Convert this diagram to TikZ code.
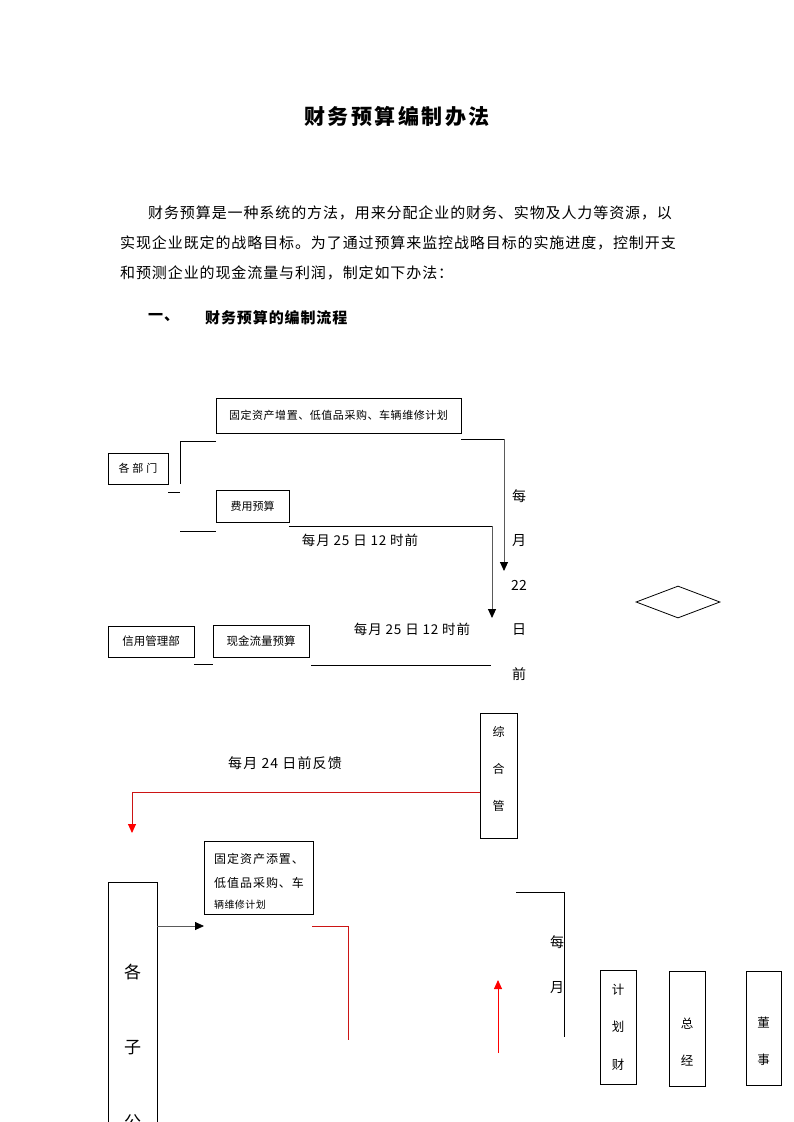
\documentclass[tikz,border=0pt]{standalone}
\usepackage{fontspec}
\setmainfont{Noto Sans CJK SC}
\newfontfamily\spacedA[LetterSpace=6]{Noto Sans CJK SC}
\usetikzlibrary{arrows.meta,shapes.geometric}
\definecolor{lnred}{RGB}{204,20,20}
\definecolor{lngray}{RGB}{90,90,90}
\tikzset{
  box/.style={draw, line width=0.8pt, inner sep=0pt, align=center},
  conn/.style={line width=0.8pt},
  gconn/.style={line width=0.9pt, draw=lngray},
  rconn/.style={line width=0.9pt, draw=lnred},
  tip/.style={-{Triangle[length=9pt,width=8pt,color=black]}},
  rtip/.style={-{Triangle[length=9pt,width=8pt,color=red]}},
  txt/.style={inner sep=0pt},
  para/.style={inner sep=0pt, anchor=west, font=\spacedA\fontsize{15}{15}\selectfont},
  small/.style={font=\fontsize{11}{12}\selectfont},
  lab/.style={inner sep=0pt, font=\fontsize{13.5}{13.5}\selectfont\addfontfeatures{LetterSpace=6}},
}
\begin{document}
\begin{tikzpicture}[x=1pt,y=-1pt]
\useasboundingbox (0,0) rectangle (793,1122);
\clip (0,0) rectangle (793,1122);
% title and text
\node[txt, font=\bfseries\addfontfeatures{LetterSpace=12}\fontsize{21}{21}\selectfont] (title) at (397,117) {财务预算编制办法};
\node[para] (l1) at (148,213) {财务预算是一种系统的方法，用来分配企业的财务、实物及人力等资源，以};
\node[para] (l2) at (120,243) {实现企业既定的战略目标。为了通过预算来监控战略目标的实施进度，控制开支};
\node[para] (l3) at (120,273) {和预测企业的现金流量与利润，制定如下办法：};
\node[para, font=\bfseries\spacedA\fontsize{15}{15}\selectfont] (h1) at (148,318) {一、};
\node[para, font=\bfseries\spacedA\fontsize{15}{15}\selectfont] (h2) at (205,318) {财务预算的编制流程};

% top boxes
\node[box, small, minimum width=245pt, minimum height=35pt] (A) at (338.5,415.5) {\addfontfeatures{LetterSpace=5}固定资产增置、低值品采购、车辆维修计划};
\node[box, small, minimum width=60pt, minimum height=31pt] (dept) at (138,468.5) {各\hspace{3pt}部\hspace{3pt}门};
\node[box, small, minimum width=73pt, minimum height=32pt] (fee) at (252.5,506) {费用预算};
\node[box, minimum width=86pt, minimum height=31pt, font=\fontsize{11.5}{12}\selectfont] (credit) at (151,641.5) {信用管理部};
\node[box, minimum width=96pt, minimum height=32pt, font=\fontsize{11.5}{12}\selectfont] (cash) at (261,641) {现金流量预算};

\node[lab] (t25a) at (360,540) {每月 25 日 12 时前};
\node[lab] (t25b) at (412,629) {每月 25 日 12 时前};
\node[lab, align=center, font=\fontsize{14}{44.5}\selectfont] (v22) at (519,585) {每\\月\\22\\日\\前};

% connectors top
\coordinate (p1) at (216,441); \coordinate (p2) at (180,441); \coordinate (p3) at (180,484);
\draw[conn] (p1) -- (p2) -- (p3);
\coordinate (q1) at (168,492); \coordinate (q2) at (180,492);
\draw[conn] (q1) -- (q2);
\coordinate (r1) at (180,531); \coordinate (r2) at (216,531);
\draw[conn] (r1) -- (r2);
\coordinate (s1) at (461,439); \coordinate (s2) at (504,439); \coordinate (s3) at (504,571);
\draw[conn] (s1) -- (s2);
\draw[gconn, tip] (s2) -- (s3);
\coordinate (u1) at (289,526); \coordinate (u2) at (492,526); \coordinate (u3) at (492,618);
\draw[conn] (u1) -- (u2);
\draw[gconn, tip] (u2) -- (u3);
\coordinate (c1) at (194,664); \coordinate (c2) at (213,664);
\draw[conn] (c1) -- (c2);
\coordinate (d1) at (311,665); \coordinate (d2) at (491,665);
\draw[conn] (d1) -- (d2);

% diamond
\node[draw, diamond, line width=0.8pt, aspect=2.7, minimum width=84pt, minimum height=32pt, inner sep=0pt] (dia) at (678,602) {};

% middle
\node[box, minimum width=37pt, minimum height=125pt] (zh) at (498.5,775.5) {};
\node[txt, align=center, font=\fontsize{12}{37}\selectfont] (zht) at (498.5,769) {综\\合\\管};
\node[lab, font=\fontsize{14}{14}\selectfont\addfontfeatures{LetterSpace=8}] (t24) at (285,763) {每月 24 日前反馈};
\coordinate (f1) at (480,792); \coordinate (f2) at (132,792); \coordinate (f3) at (132,833);
\draw[rconn, rtip] (f1) -- (f2) -- (f3);

\node[box, minimum width=109pt, minimum height=73pt, anchor=north west] (B) at (204,841) {};
\node[txt, anchor=west, font=\fontsize{12}{12}\selectfont\addfontfeatures{LetterSpace=8}] (B1) at (214,859) {固定资产添置、};
\node[txt, anchor=west, font=\fontsize{12}{12}\selectfont\addfontfeatures{LetterSpace=8}] (B2) at (214,883) {低值品采购、车};
\node[txt, anchor=west, font=\fontsize{10}{10}\selectfont\addfontfeatures{LetterSpace=4}] (B3) at (214,905) {辆维修计划};

\node[box, minimum width=49pt, minimum height=300pt, anchor=north west] (sub) at (108,882) {};
\node[txt, align=center, font=\fontsize{17}{75}\selectfont, anchor=north] (subt) at (132.5,964) {各\\子\\公};

\coordinate (g1) at (157,926); \coordinate (g2) at (204,926);
\draw[conn, draw=lngray, tip] (g1) -- (g2);
\coordinate (h1) at (312,926); \coordinate (h2) at (348,926); \coordinate (h3) at (348,1040);
\draw[rconn] (h1) -- (h2) -- (h3);
\coordinate (k1) at (498,1053); \coordinate (k2) at (498,980);
\draw[rconn, draw=red, rtip] (k1) -- (k2);
\coordinate (m1) at (516,892); \coordinate (m2) at (564,892); \coordinate (m3) at (564,1037);
\draw[conn] (m1) -- (m2) -- (m3);
\node[lab, align=center, font=\fontsize{14}{45}\selectfont] (vm) at (557,964.5) {每\\月};

% bottom right boxes
\node[box, minimum width=36pt, minimum height=114pt, font=\fontsize{12.5}{37.5}\selectfont] (jh) at (618,1027) {计\\划\\财};
\node[box, minimum width=36pt, minimum height=115pt, font=\fontsize{12.5}{37.5}\selectfont] (zj) at (687,1028.5) {\mbox{}\\总\\经};
\node[box, minimum width=35pt, minimum height=114pt, font=\fontsize{12.5}{37.5}\selectfont] (ds) at (763.5,1028) {\mbox{}\\董\\事};
\end{tikzpicture}
\end{document}
